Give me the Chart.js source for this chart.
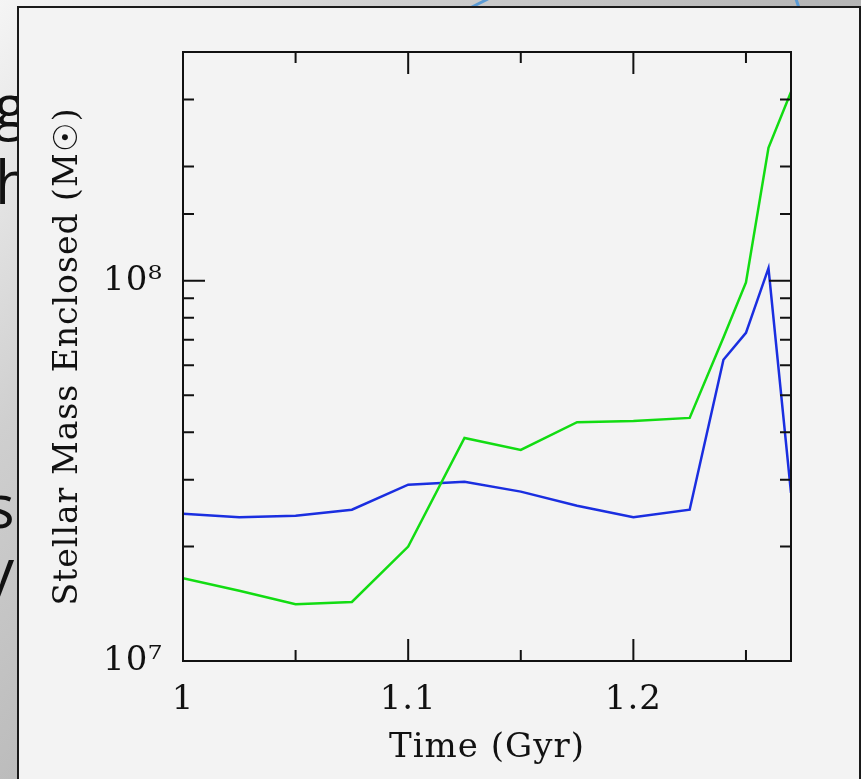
<!DOCTYPE html>
<html>
<head>
<meta charset="utf-8">
<script src="https://cdn.jsdelivr.net/npm/chart.js@4.4.1/dist/chart.umd.min.js"></script>
<style>
  html, body { margin: 0; padding: 0; width: 861px; height: 779px; overflow: hidden; }
  body { position: relative; }
  #slide { position: absolute; left: 0; top: 0; }
  #panel {
    position: absolute; left: 17px; top: 6px; width: 840px; height: 800px;
    background: #f3f3f3; border: 2px solid #1a1a1a;
  }
  #wrap { position: absolute; left: 0; top: 0; width: 861px; height: 779px; }
</style>
</head>
<body>

<!-- slide behind the figure -->
<svg id="slide" width="861" height="779">
  <defs>
    <linearGradient id="bg" x1="0" y1="0" x2="861" y2="779" gradientUnits="userSpaceOnUse">
      <stop offset="0" stop-color="#f5f5f5"/>
      <stop offset="0.25" stop-color="#cfcfcf"/>
      <stop offset="0.5" stop-color="#b8b8b8"/>
      <stop offset="1" stop-color="#a0a0a0"/>
    </linearGradient>
  </defs>
  <rect x="0" y="0" width="861" height="779" fill="url(#bg)"/>
  <g font-family="Open Sans, sans-serif" font-size="60" fill="#111">
    <text x="-6" y="128">g</text>
    <text x="-5" y="204">h</text>
    <text x="-14" y="528">s</text>
    <text x="-16" y="592">y</text>
  </g>
  <path d="M470 8 L488 -1 M796 -1 L799 8" stroke="#5b9bd5" stroke-width="3" fill="none"/>
</svg>

<div id="panel"></div>
<div id="wrap"><canvas id="massChart"></canvas></div>

<script>
// Time (Gyr) of every output
const times = [1.0, 1.025, 1.05, 1.075, 1.1, 1.125, 1.15, 1.175, 1.2, 1.225, 1.24, 1.25, 1.26, 1.27];

// stellar mass enclosed (Msun)
const massGreen = [1.65e7, 1.53e7, 1.41e7, 1.43e7, 2.0e7, 3.86e7, 3.59e7, 4.25e7, 4.28e7, 4.36e7, 7.1e7, 9.9e7, 2.24e8, 3.14e8];
const massBlue  = [2.44e7, 2.39e7, 2.41e7, 2.50e7, 2.91e7, 2.96e7, 2.79e7, 2.56e7, 2.39e7, 2.50e7, 6.2e7, 7.3e7, 1.08e8, 2.77e7];

// axis ticks
const xMajorTicks = [1, 1.1, 1.2];
const xTickLabels = ['1', '1.1', '1.2'];
const xMinorTicks = [1.05, 1.15, 1.25];
const yTickValues = [1e7, 1e8];
const yTickLabels = ['10\u2077', '10\u2078'];

const FONT = { family: 'DejaVu Serif', size: 34 };
const INK = '#111';

function near(a, b) { return Math.abs(a - b) < 1e-6 * Math.max(1, Math.abs(b)); }

// box round the plot, ticks pointing inwards on all four sides
const frameTicks = {
  id: 'frameTicks',
  beforeDraw(chart) {
    chart.ctx.letterSpacing = '1px';
  },
  afterDatasetsDraw(chart) {
    const { ctx, chartArea: a, scales: { x, y } } = chart;
    const big = 22, small = 11;
    ctx.save();
    ctx.strokeStyle = INK;
    ctx.lineWidth = 2;
    ctx.strokeRect(a.left, a.top, a.right - a.left, a.bottom - a.top);
    ctx.beginPath();
    const xTick = (v, len) => {
      const px = x.getPixelForValue(v);
      ctx.moveTo(px, a.bottom); ctx.lineTo(px, a.bottom - len);
      ctx.moveTo(px, a.top); ctx.lineTo(px, a.top + len);
    };
    xMajorTicks.forEach(v => xTick(v, big));
    xMinorTicks.forEach(v => xTick(v, small));
    y.ticks.forEach(t => {
      const lg = Math.log10(t.value);
      const len = near(lg, Math.round(lg)) ? big : small;
      const py = y.getPixelForValue(t.value);
      ctx.moveTo(a.left, py); ctx.lineTo(a.left + len, py);
      ctx.moveTo(a.right, py); ctx.lineTo(a.right - len, py);
    });
    ctx.stroke();
    ctx.restore();
  }
};

const ctx = document.getElementById('massChart').getContext('2d');
const massChart = new Chart(ctx, {
  type: 'line',
  data: {
    datasets: [{
      label: 'green',
      data: times.map((t, i) => ({ x: t, y: massGreen[i] })),
      borderColor: '#12dc12',
      borderWidth: 2.5,
      pointRadius: 0,
      fill: false,
      tension: 0
    }, {
      label: 'blue',
      data: times.map((t, i) => ({ x: t, y: massBlue[i] })),
      borderColor: '#1a2ee0',
      borderWidth: 2.5,
      pointRadius: 0,
      fill: false,
      tension: 0
    }]
  },
  options: {
    responsive: true,
    maintainAspectRatio: false,
    animation: false,
    layout: { padding: { left: 30, top: 52, right: 70, bottom: 0 } },
    plugins: { legend: { display: false }, tooltip: { enabled: false } },
    scales: {
      x: {
        type: 'linear',
        min: 1,
        max: 1.27,
        grid: { display: false, drawTicks: false },
        border: { display: false },
        ticks: {
          stepSize: 0.05,
          autoSkip: false,
          maxRotation: 0,
          padding: 19,
          color: INK,
          font: FONT,
          callback: v => {
            const i = xMajorTicks.findIndex(t => near(v, t));
            return i < 0 ? '' : xTickLabels[i];
          }
        },
        title: { display: true, text: 'Time (Gyr)', color: INK, font: FONT, padding: { top: 0, bottom: 10 } },
        afterFit: s => { s.height = 118; }
      },
      y: {
        type: 'logarithmic',
        min: 1e7,
        max: 4e8,
        grid: { display: false, drawTicks: false },
        border: { display: false },
        ticks: {
          autoSkip: false,
          padding: 20,
          color: INK,
          font: FONT,
          callback: v => {
            const i = yTickValues.findIndex(t => near(v, t));
            return i < 0 ? '' : yTickLabels[i];
          }
        },
        title: {
          display: true, text: 'Stellar Mass Enclosed (M\u2609)', color: INK,
          font: { family: 'DejaVu Serif', size: 33 }, padding: { top: 19, bottom: 0 }
        },
        afterFit: s => { s.width = 153; }
      }
    }
  },
  plugins: [frameTicks]
});
</script>
</body>
</html>
